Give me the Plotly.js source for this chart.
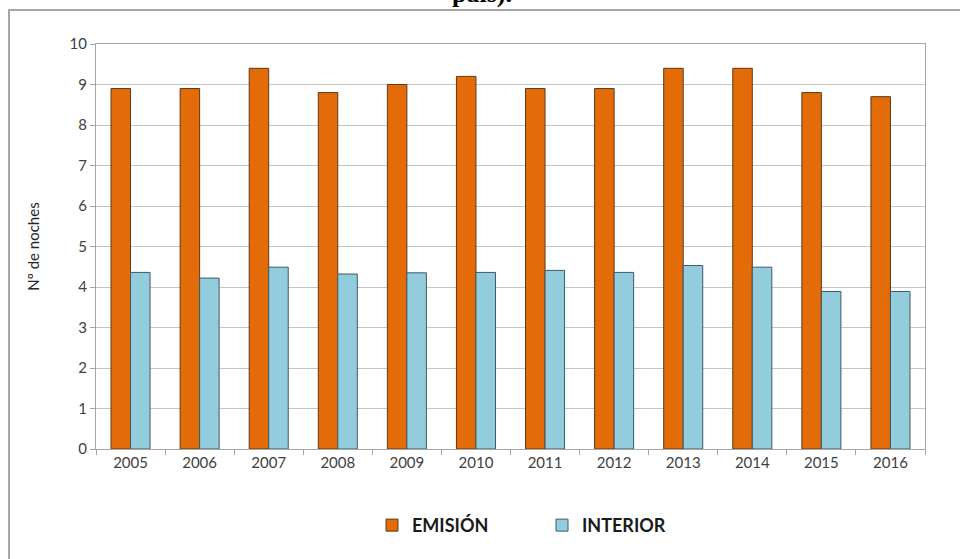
<!DOCTYPE html>
<html>
<head>
<meta charset="utf-8">
<script src="https://cdn.plot.ly/plotly-3.0.1.min.js"></script>
<style>html,body{margin:0;padding:0;background:#fff;}#chart{width:960px;height:559px;}</style>
</head>
<body>
<div id="chart"></div>
<script>
const years = ['2005','2006','2007','2008','2009','2010','2011','2012','2013','2014','2015','2016'];
const emision = [8.9, 8.9, 9.4, 8.8, 9.0, 9.2, 8.9, 8.9, 9.4, 9.4, 8.8, 8.7];
const interior = [4.36, 4.22, 4.49, 4.32, 4.35, 4.36, 4.41, 4.36, 4.53, 4.49, 3.89, 3.89];
const yTicks = [0,1,2,3,4,5,6,7,8,9,10];

const font = 'Lato, "Open Sans", "Liberation Sans", sans-serif';

const traces = [
  {type:'bar', name:'EMISIÓN', x:years, y:emision,
   marker:{color:'#E36C09', line:{color:'#5a3a1a', width:1}}},
  {type:'bar', name:'INTERIOR', x:years, y:interior,
   marker:{color:'#93CDDD', line:{color:'#3c5a66', width:1}}}
];

const layout = {
  width:960, height:559,
  margin:{l:96, r:35, t:44, b:110},
  paper_bgcolor:'#fff', plot_bgcolor:'#fff',
  barmode:'group', bargap:0.435, bargroupgap:0,
  showlegend:true,
  legend:{orientation:'h', x:(372-96)/829, xanchor:'left', y:-0.143, yanchor:'top',
    font:{family:font, size:18, color:'#1a1a1a', weight:'bold'}, itemwidth:30,
    entrywidth:125, entrywidthmode:'pixels', traceorder:'normal'},
  xaxis:{type:'category', tickson:'boundaries', ticks:'outside', ticklen:5, tickcolor:'#a6a6a6',
    showline:true, linecolor:'#a6a6a6', linewidth:1, showgrid:false,
    tickfont:{family:font, size:15, color:'#404040'}, mirror:true},
  yaxis:{range:[0,10], tickvals:yTicks, ticks:'outside', ticklen:5, tickcolor:'#a6a6a6',
    showline:true, linecolor:'#a6a6a6', linewidth:1, mirror:true,
    showgrid:true, gridcolor:'#c4c4c4', gridwidth:1, zeroline:false,
    tickfont:{family:font, size:15, color:'#404040'},
    title:{text:'Nº de noches', font:{family:font, size:15, color:'#262626'}, standoff:26}},
  shapes:[
    {type:'rect', xref:'paper', yref:'paper', layer:'below',
     x0:(9-96)/829, x1:(975-96)/829, y0:(449-575)/405, y1:1+(44-10)/405,
     line:{color:'#a6a6a6', width:2}, fillcolor:'rgba(0,0,0,0)'}
  ],
  annotations:[
    {text:'país).', xref:'paper', yref:'paper', x:(482-96)/829, y:1+(44-10)/405,
     xanchor:'center', yanchor:'bottom', showarrow:false,
     font:{family:'"Liberation Serif", "Times New Roman", serif', size:26, color:'#000', weight:'bold'}}
  ]
};

Plotly.newPlot('chart', traces, layout, {displayModeBar:false, staticPlot:true});
</script>
</body>
</html>
